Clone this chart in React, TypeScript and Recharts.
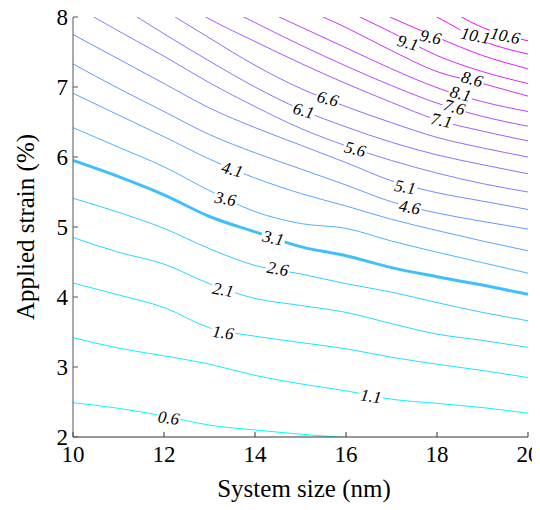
import React from 'react'
import { ComposedChart, Line, Scatter, XAxis, YAxis } from 'recharts'

const xs = [10, 11, 12, 13, 14, 15, 16, 17, 18, 19, 20]
const xTicks = [10, 12, 14, 16, 18, 20]
const yTicks = [2, 3, 4, 5, 6, 7, 8]

// applied strain (%) of each contour level, read at the sizes in xs
const c0_6 = [2.49, 2.41, 2.3, 2.17, 2.1, 2.04, 1.99, 1.93, null, null, null]
const c1_1 = [3.42, 3.27, 3.16, 3.04, 2.88, 2.76, 2.66, 2.54, 2.48, 2.42, 2.34]
const c1_6 = [4.2, 4.03, 3.85, 3.56, 3.44, 3.35, 3.26, 3.14, 3.04, 2.95, 2.85]
const c2_1 = [4.85, 4.64, 4.47, 4.19, 3.98, 3.88, 3.78, 3.62, 3.47, 3.38, 3.28]
const c2_6 = [5.41, 5.21, 4.98, 4.69, 4.45, 4.33, 4.19, 4.07, 3.92, 3.78, 3.66]
const c3_1 = [5.95, 5.72, 5.46, 5.15, 4.93, 4.72, 4.59, 4.42, 4.29, 4.17, 4.04]
const c3_6 = [6.42, 6.14, 5.86, 5.52, 5.22, 5.05, 4.98, 4.8, 4.64, 4.49, 4.34]
const c4_1 = [6.91, 6.6, 6.29, 5.97, 5.7, 5.48, 5.3, 5.11, 4.95, 4.8, 4.66]
const c4_6 = [7.33, 6.98, 6.65, 6.32, 6.06, 5.83, 5.6, 5.36, 5.2, 5.08, 4.97]
const c5_1 = [7.75, 7.4, 7.05, 6.7, 6.42, 6.17, 5.92, 5.66, 5.49, 5.37, 5.25]
const c5_6 = [8.17, 7.8, 7.44, 7.06, 6.72, 6.41, 6.16, 5.95, 5.77, 5.62, 5.5]
const c6_1 = [8.6, 8.17, 7.76, 7.37, 7.0, 6.68, 6.43, 6.21, 6.03, 5.89, 5.76]
const c6_6 = [8.95, 8.52, 8.1, 7.7, 7.31, 6.98, 6.72, 6.49, 6.28, 6.13, 6.0]
const c7_1 = [null, 8.75, 8.35, 7.97, 7.65, 7.34, 7.05, 6.78, 6.53, 6.37, 6.23]
const c7_6 = [null, null, 8.6, 8.25, 7.92, 7.6, 7.3, 7.02, 6.77, 6.58, 6.44]
const c8_1 = [null, null, null, 8.55, 8.17, 7.86, 7.56, 7.26, 6.99, 6.79, 6.65]
const c8_6 = [null, null, null, null, 8.5, 8.15, 7.85, 7.52, 7.22, 7.05, 6.87]
const c9_1 = [null, null, null, null, null, 8.45, 8.1, 7.78, 7.45, 7.22, 7.05]
const c9_6 = [null, null, null, null, null, null, 8.3, 7.99, 7.71, 7.45, 7.26]
const c10_1 = [null, null, null, null, null, null, null, 8.35, 8.0, 7.66, 7.47]
const c10_6 = [null, null, null, null, null, null, null, 8.55, 8.2, 7.85, 7.66]

const levels = [0.6, 1.1, 1.6, 2.1, 2.6, 3.1, 3.6, 4.1, 4.6, 5.1, 5.6, 6.1, 6.6, 7.1, 7.6, 8.1, 8.6, 9.1, 9.6, 10.1, 10.6]
const contours = [c0_6, c1_1, c1_6, c2_1, c2_6, c3_1, c3_6, c4_1, c4_6, c5_1, c5_6, c6_1, c6_6, c7_1, c7_6, c8_1, c8_6, c9_1, c9_6, c10_1, c10_6]

// inline contour labels
const labelText = ['0.6', '1.1', '1.6', '2.1', '2.6', '3.1', '3.6', '4.1', '4.6', '5.1', '5.6', '6.1', '6.6', '7.1', '7.6', '8.1', '8.6', '9.1', '9.6', '10.1', '10.6']
const labelX = [12.1, 16.55, 13.3, 13.3, 14.5, 14.4, 13.35, 13.5, 17.4, 17.3, 16.2, 15.07, 15.6, 18.1, 18.38, 18.52, 18.77, 17.36, 17.86, 18.85, 19.5]
const labelY = [2.27, 2.58, 3.49, 4.1, 4.4, 4.84, 5.4, 5.82, 5.28, 5.57, 6.11, 6.66, 6.83, 6.52, 6.71, 6.9, 7.11, 7.63, 7.71, 7.73, 7.73]
const labelAngle = [8, 8, 8, 10, 10, 12, 10, 15, 10, 10, 14, 15, 15, 12, 15, 15, 15, 15, 12, 12, 12]

const data = xs.map((x, i) => {
  const row: any = { x }
  contours.forEach((c, k) => { row['c' + k] = c[i] })
  return row
})

const labels = labelText.map((text, i) => ({ x: labelX[i], y: labelY[i], text, angle: labelAngle[i] }))

const FONT = '"Liberation Serif", "Times New Roman", serif'
const serif = { fontFamily: FONT }

// matlab "cool" colormap
const cool = (t: number) => `rgb(${Math.round(255 * t)},${Math.round(255 * (1 - t))},255)`

const ContourLabel = (props: any) => {
  const { cx, cy, payload } = props
  const w = payload.text.length * 8
  return (
    <g transform={`translate(${cx},${cy}) rotate(${payload.angle})`}>
      <rect x={-w / 2} y={-4} width={w} height={8} fill="#fff" />
      <text x={0} y={0} textAnchor="middle" dominantBaseline="central" style={serif} fontSize={17} fontStyle="italic" fill="#000">
        {payload.text}
      </text>
    </g>
  )
}

const XTick = ({ x, y, payload }: any) => (
  <text x={x} y={y} dy="0.71em" textAnchor="middle" style={serif} fontSize={23} fill="#000">
    {payload.value}
  </text>
)

const YTick = ({ x, y, payload }: any) => (
  <text x={x} y={y} dy="0.34em" textAnchor="end" style={serif} fontSize={23} fill="#000">
    {payload.value}
  </text>
)

const App = () => {
  return (
    <div style={{ margin: '-8px 0 0 -8px', width: 540, height: 505 }}>
      <ComposedChart
        width={540}
        height={505}
        data={data}
        margin={{ top: 17, right: 12, bottom: 0, left: 0 }}
        style={{ overflow: 'visible', fontFamily: FONT }}
      >
        <XAxis
          dataKey="x"
          type="number"
          domain={[10, 20]}
          ticks={xTicks}
          interval={0}
          allowDataOverflow
          height={68}
          tickSize={-5}
          tickMargin={14}
          stroke="#333"
          tick={<XTick />}
          label={{
            content: () => (
              <text x={304} y={497} textAnchor="middle" style={serif} fontSize={25} fill="#000">System size (nm)</text>
            ),
          }}
        />
        <XAxis xAxisId="top" orientation="top" type="number" domain={[10, 20]} ticks={xTicks} interval={0} height={0} tickSize={-5} tick={false} stroke="#888" />
        <YAxis
          type="number"
          domain={[2, 8]}
          ticks={yTicks}
          interval={0}
          allowDataOverflow
          width={73}
          tickSize={-5}
          tickMargin={10}
          stroke="#555"
          tick={<YTick />}
          label={{
            content: () => (
              <text x={25} y={227} transform="rotate(-90, 25, 227)" textAnchor="middle" dominantBaseline="central" style={serif} fontSize={25} fill="#000">
                Applied strain (%)
              </text>
            ),
          }}
        />
        <YAxis yAxisId="right" orientation="right" type="number" domain={[2, 8]} ticks={yTicks} interval={0} width={0} tickSize={-5} tick={false} stroke="#888" />
        {levels.map((lv, k) => (
          <Line
            key={lv}
            dataKey={'c' + k}
            type="monotone"
            stroke={cool((lv - 0.6) / 10)}
            strokeWidth={lv === 3.1 ? 3 : 1}
            dot={false}
            activeDot={false}
            isAnimationActive={false}
          />
        ))}
        <Scatter data={labels} dataKey="y" shape={ContourLabel} isAnimationActive={false} />
      </ComposedChart>
    </div>
  )
}

export default App
